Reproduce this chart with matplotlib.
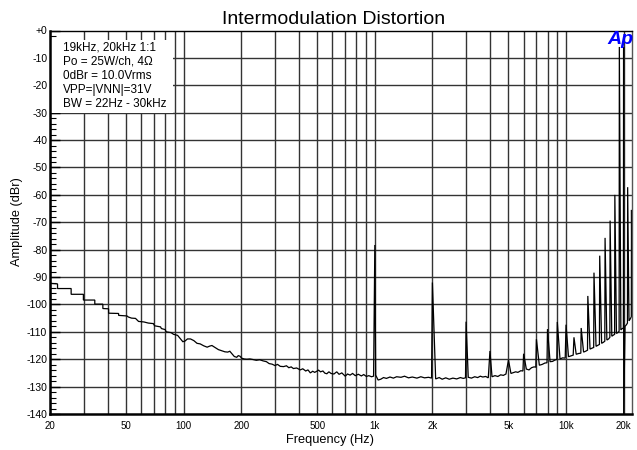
import numpy as np
import matplotlib
matplotlib.use("Agg")
import matplotlib.pyplot as plt
from matplotlib.patches import Rectangle
from matplotlib.ticker import FixedLocator, NullFormatter

plt.rcParams['font.family'] = ['Liberation Sans', 'DejaVu Sans']

# ---- data ----
floor_freq = [20, 21.9, 21.9, 25.8, 25.8, 29.9, 29.9, 34.3, 34.3, 37.8, 37.8, 40.5, 40.5, 45.7, 45.7,
              50.5, 51.4, 53.4, 56, 58.1, 62, 65.3, 69.4, 70.5, 75.7, 76.5, 80.1, 81, 86, 88.5, 93,
              95.9, 99, 101.5, 104.7, 108.6, 113, 117.5, 122, 127.3, 132.7, 137, 140.6, 145, 152,
              158, 164.4, 170, 174.4, 180.3, 184, 189.5, 193, 197, 201, 207, 214, 222, 230, 240,
              250, 260, 271, 280, 290, 300, 310, 320, 333, 345, 355, 365, 375, 390, 407, 420, 435,
              447, 460, 473, 485, 497, 508, 520, 535, 548, 561, 575, 590, 611, 632, 650, 672, 700,
              720, 742, 765, 790, 820, 850, 875, 903, 930, 960, 985,
              1010, 1040, 1074, 1110, 1150, 1200, 1250, 1300, 1370, 1430, 1500, 1570, 1660, 1740,
              1820, 1910, 1980,
              2080, 2170, 2250, 2350, 2450, 2560, 2680, 2800, 2900, 2980,
              3080, 3200, 3330, 3450, 3560, 3670, 3800, 3920,
              4100, 4250, 4400, 4550, 4700, 4850,
              5150, 5300, 5450, 5600, 5800, 5950,
              6200, 6400, 6600, 6800, 6950,
              7250, 7500, 7750, 7950,
              8250, 8500, 8750, 8950,
              9300, 9600, 9900,
              10300, 10600, 10900,
              11300, 11650, 11950,
              12350, 12650, 12950,
              13350, 13650, 13950,
              14350, 14700, 14950,
              15350, 15700, 15950,
              16350, 16700, 16950,
              17350, 17700, 17950,
              18350, 18700, 18950,
              19350, 19700, 19950,
              20350, 20700, 20950,
              21350, 21700, 21950, 22130]
floor_db = [-92.3, -92.5, -94.2, -94.2, -96.3, -96.3, -98.4, -98.4, -99.9, -99.9, -101.5, -101.6, -103.2, -103.3, -104.0,
            -104.2, -104.6, -105.0, -105.1, -106.2, -106.4, -106.8, -107.0, -107.8, -108.2, -108.8, -109.2, -110.0, -110.3, -110.9, -111.3,
            -112.4, -113.6, -113.4, -112.6, -112.6, -113.2, -114.2, -114.4, -115.1, -115.6, -115.2, -115.0, -115.6, -116.5,
            -116.9, -117.3, -117.4, -117.1, -118.3, -119.0, -119.3, -118.7, -118.9, -119.6, -119.9, -120.0, -119.9, -120.1, -120.4,
            -120.2, -120.6, -120.9, -121.6, -121.8, -122.3, -121.9, -122.6, -122.7, -122.4, -123.1, -122.8, -123.4, -123.2, -123.9, -123.5, -124.3,
            -123.9, -125.0, -124.4, -124.8, -124.4, -124.0, -124.6, -124.3, -125.1, -125.3, -124.6, -125.2, -125.4, -124.6, -125.5, -125.0, -126.2,
            -125.4, -125.8, -125.2, -126.0, -125.5, -126.1, -125.6, -126.3, -126.0, -126.4, -126.2,
            -125.8, -127.6, -127.3, -126.7, -127.0, -126.5, -126.9, -126.4, -126.6, -126.2, -126.8, -126.5, -126.9, -126.4,
            -126.8, -126.6, -126.9,
            -127.2, -126.7, -127.3, -126.8, -127.3, -126.9, -127.2, -126.7, -127.0, -126.8,
            -126.6, -126.9, -126.4, -126.7, -126.2, -126.5, -126.3, -126.8,
            -126.4, -126.0, -126.3, -125.7, -125.9, -125.4,
            -125.2, -124.9, -124.6, -124.8, -124.2, -124.3,
            -123.6, -123.9, -123.1, -122.8, -122.9,
            -122.2, -121.9, -121.4, -121.3,
            -120.9, -120.8, -120.3, -120.1,
            -119.9, -119.5, -119.6,
            -119.1, -118.8, -118.5,
            -118.2, -117.9, -117.8,
            -117.4, -117.1, -116.7,
            -116.3, -116.0, -115.7,
            -115.3, -114.9, -114.6,
            -114.2, -113.8, -113.4,
            -113.0, -112.6, -112.0,
            -111.6, -111.2, -110.9,
            -110.6, -110.2, -109.8,
            -109.3, -108.8, -108.6,
            -108.0, -107.4, -106.8,
            -106.0, -105.2, -104.5, -104.0]

spike_freq = [1000, 2000, 3000, 4000, 5000, 6000, 7000, 8000, 9000, 10000, 11000, 12000,
              13000, 14000, 15000, 16000, 17000, 18000, 19000, 20000, 20020, 21000, 22000]
spike_db = [-78.3, -92.0, -106.3, -117.0, -120.3, -118.0, -112.7, -109.0, -106.4, -107.4, -112.0, -108.6,
            -96.9, -88.4, -82.2, -75.7, -69.4, -60.0, -6.0, -6.0, -140.0, -57.2, -65.5]

x_ticks = [20, 50, 100, 200, 500, 1000, 2000, 5000, 10000, 20000]
x_labels = ['20', '50', '100', '200', '500', '1k', '2k', '5k', '10k', '20k']
y_ticks = list(range(0, -141, -10))
y_labels = ['+0'] + [str(v) for v in y_ticks[1:]]
info_lines = ['19kHz, 20kHz 1:1', 'Po = 25W/ch, 4\u03a9', '0dBr = 10.0Vrms',
              'VPP=|VNN|=31V', 'BW = 22Hz - 30kHz']

# merge floor and spikes into one trace
f_all = np.array(floor_freq + spike_freq, dtype=float)
d_all = np.array(floor_db + spike_db, dtype=float)
order = np.argsort(f_all, kind='stable')
f_all, d_all = f_all[order], d_all[order]

W, H = 637, 450
fig = plt.figure(figsize=(W / 100, H / 100), dpi=100)
ax = fig.add_axes([50 / W, 1 - 414 / H, (632 - 50) / W, (414 - 30.5) / H])
ax.set_xscale('log')
ax.set_xlim(20, 22130)
ax.set_ylim(-140, 0)

# grid
grid_x = [m * 10 ** e for e in range(1, 5) for m in range(1, 10)]
grid_x = [g for g in grid_x if 20 <= g <= 22130]
for g in grid_x:
    ax.axvline(g, color='#333333', lw=1.0, zorder=1)
for yv in y_ticks[1:-1]:
    ax.axhline(yv, color='#333333', lw=1.0, zorder=1)

# info box
ax.add_patch(Rectangle((20, -30), 88 - 20, 26.5, facecolor='white', edgecolor='none', zorder=2))
for i, t in enumerate(info_lines):
    fig.text(63 / W, 1 - (48 + 14 * i) / H, t, fontsize=8.5, va='center', ha='left', zorder=5)

ax.plot(f_all, d_all, color='black', lw=0.9, zorder=3, solid_joinstyle='miter')

ax.xaxis.set_major_locator(FixedLocator(x_ticks))
ax.set_xticklabels(x_labels)
ax.xaxis.set_minor_formatter(NullFormatter())
ax.xaxis.set_minor_locator(FixedLocator([]))
ax.tick_params(axis='x', which='both', length=0, labelsize=7, pad=5)

ax.set_yticks(y_ticks)
ax.set_yticklabels(y_labels)
ax.yaxis.set_minor_locator(FixedLocator(list(range(-140, 1, 2))))
ax.tick_params(axis='y', which='major', direction='in', length=7, width=1, labelsize=7.5, pad=2)
ax.tick_params(axis='y', which='minor', direction='in', length=4, width=0.8)

for s in ['left', 'bottom']:
    ax.spines[s].set_linewidth(1.8)
for s in ['top', 'right']:
    ax.spines[s].set_linewidth(1.0)
ax.spines['right'].set_color('#555555')
for s in ax.spines.values():
    s.set_zorder(6)

fig.text(334 / W, 1 - 19 / H, 'Intermodulation Distortion', fontsize=14, ha='center', va='center')
fig.text(330 / W, 1 - 440 / H, 'Frequency (Hz)', fontsize=9.2, ha='center', va='center')
fig.text(17 / W, 1 - 222 / H, 'Amplitude (dBr)', fontsize=9.2, ha='center', va='center', rotation=90)
fig.text(620 / W, 1 - 40 / H, 'Ap', fontsize=14, ha='center', va='center', color='#0000ff',
         fontweight='bold', fontstyle='italic', zorder=7)

fig.savefig('out.png', dpi=100)
